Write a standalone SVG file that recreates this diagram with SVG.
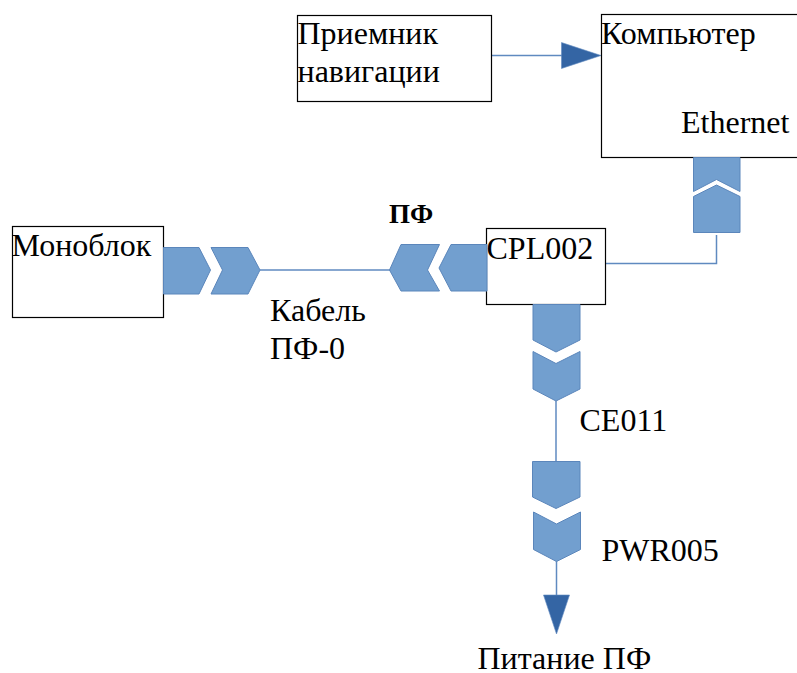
<svg xmlns="http://www.w3.org/2000/svg" width="797" height="673" viewBox="0 0 797 673">
<style>
.box{fill:#fff;stroke:#000;stroke-width:1.2}
.ch{fill:#729fcf;stroke:#5b86bb;stroke-width:1}
.ln{fill:none;stroke:#5f8ac0;stroke-width:1.5}
.ar{fill:#3465a4;stroke:#5f8ac0;stroke-width:.6}
text{font-family:"Liberation Serif","Times New Roman",serif;font-size:32px;fill:#000}
</style>
<rect width="797" height="673" fill="#fff"/>
<g id="connectors">
<path class="ln" d="M492 55.500H562"/>
<path class="ln" d="M260 270H390"/>
<path class="ln" d="M606 263.500H716.500V235"/>
<path class="ln" d="M556 401V462"/>
<path class="ln" d="M556.500 561V596"/>
<polygon class="ar" points="561.500,42.500 601,55.500 561.500,68.500"/>
<polygon class="ar" points="543.500,595 569.500,595 556.500,634"/>
</g>
<g id="node-priemnik"><rect class="box" x="297.500" y="15.500" width="194" height="86"/><text x="297.500" y="44">Приемник</text><text x="297.500" y="82">навигации</text></g>
<g id="node-computer"><rect class="box" x="601.500" y="14.500" width="197" height="143"/><text x="601" y="44">Компьютер</text><text x="681" y="133">Ethernet</text></g>
<g id="node-monoblock"><rect class="box" x="12.500" y="226.500" width="151" height="91"/><text x="11.500" y="256">Моноблок</text></g>
<g id="node-cpl002"><rect class="box" x="486.500" y="228.500" width="119" height="76"/><text x="486.500" y="259">CPL002</text></g>
<g id="conn-monoblock">
<polygon class="ch" points="163.500,247.500 199,247.500 210.500,270 199,294 163.500,294"/>
<polygon class="ch" points="211,247.500 248,247.500 260,270 248,294 211,294 222.500,270"/>
</g>
<g id="conn-pf">
<polygon class="ch" points="389.500,270 401,244.500 439.500,244.500 427.500,270 439.500,291 401,291"/>
<polygon class="ch" points="439,268 451,244.500 487,244.500 487,291 451,291"/>
</g>
<g id="conn-ethernet">
<polygon class="ch" points="693.500,157.500 740,157.500 740,191.500 716.500,179.500 693.500,191.500"/>
<polygon class="ch" points="693.500,196.500 716.500,185 740,196.500 740,232.500 693.500,232.500"/>
</g>
<g id="conn-ce011">
<polygon class="ch" points="533,304.500 580,304.500 580,340 556,352 533,340"/>
<polygon class="ch" points="533,351.500 556,363.500 580,351.500 580,389 556,401 533,389"/>
<polygon class="ch" points="532.500,461.500 580,461.500 580,497 556,508.500 532.500,497"/>
<polygon class="ch" points="533.500,512 556.500,524 580.500,512 580.500,549.500 556.500,561.500 533.500,549.500"/>
</g>
<g id="labels">
<text x="389" y="223" style="font-size:27px;font-weight:bold">ПФ</text>
<text x="270" y="321">Кабель</text>
<text x="270" y="359">ПФ-0</text>
<text x="579.500" y="431">CE011</text>
<text x="601.500" y="561">PWR005</text>
<text x="477.500" y="669">Питание ПФ</text>
</g>
</svg>
